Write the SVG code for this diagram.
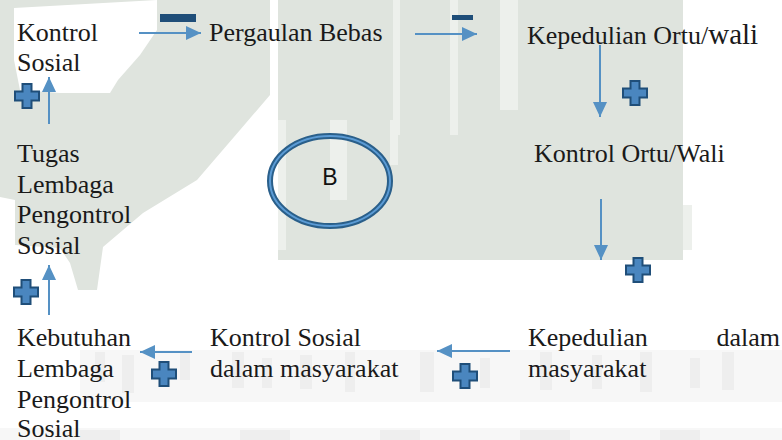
<svg xmlns="http://www.w3.org/2000/svg" width="782" height="440" viewBox="0 0 782 440">
  <style>
    .lbl { font-family: "Liberation Serif", "Times New Roman", serif; font-size: 26px; fill: #1a1a1a; }
    .conn { stroke: #5591c4; stroke-width: 2; fill: none; marker-end: url(#head); }
    .plus { fill: #4a86bf; stroke: #1f4e79; stroke-width: 2; stroke-linejoin: miter; }
    .minus { fill: #1f4e79; }
    .wm { fill: #dfe4de; }
    .wm-light { fill: #edf0ec; }
    .wm-grey { fill: #f7f7f7; }
    .wm-grey2 { fill: #eeeeee; }
  </style>
  <defs>
    <marker id="head" viewBox="0 0 15 14" refX="15" refY="7" markerWidth="15" markerHeight="14" markerUnits="userSpaceOnUse" orient="auto">
      <path d="M0,0 L15,7 L0,14 z" fill="#5591c4"/>
    </marker>
    <path id="plus" d="M-4.5,-12 h9 v7.5 h7.5 v9 h-7.5 v7.5 h-9 v-7.5 h-7.5 v-9 h7.5 z"/>
  </defs>

  <!-- background -->
  <rect width="782" height="440" fill="#ffffff"/>

  <!-- faint background watermark -->
  <g id="watermark">
    <polygon class="wm" points="0,0 270,0 270,95 240,130 197,180 143,213 103,247 97,290 78,290 70,263 60,248 15,245 15,200 0,197"/>
    <polygon fill="#ffffff" points="14,8 157,0 157,30 140,55 118,80 110,93 60,93 20,90 14,60"/>
    <rect class="wm" x="278" y="0" width="405" height="260"/>
    <rect class="wm-light" x="393" y="0" width="7" height="135"/>
    <rect class="wm-light" x="450" y="0" width="8" height="135"/>
    <rect class="wm-light" x="500" y="0" width="18" height="110"/>
    <rect class="wm-light" x="330" y="120" width="17" height="80"/>
    <rect class="wm-light" x="390" y="120" width="8" height="45"/>
    <rect class="wm-light" x="278" y="120" width="8" height="130"/>
    <rect class="wm-light" x="683" y="205" width="9" height="45"/>
    <!-- pale blocks along the bottom -->
    <rect class="wm-grey" x="80" y="350" width="702" height="52"/>
    <rect class="wm-grey2" x="95" y="352" width="10" height="30"/>
    <rect class="wm-grey2" x="122" y="355" width="12" height="38"/>
    <rect class="wm-grey2" x="180" y="352" width="10" height="28"/>
    <rect class="wm-grey2" x="232" y="352" width="12" height="36"/>
    <rect class="wm-grey2" x="262" y="358" width="10" height="30"/>
    <rect class="wm-grey2" x="300" y="355" width="12" height="34"/>
    <rect class="wm-grey2" x="345" y="352" width="10" height="40"/>
    <rect class="wm-grey2" x="420" y="352" width="14" height="40"/>
    <rect class="wm-grey2" x="480" y="358" width="10" height="30"/>
    <rect class="wm-grey2" x="540" y="352" width="12" height="38"/>
    <rect class="wm-grey2" x="592" y="355" width="10" height="34"/>
    <rect class="wm-grey2" x="640" y="352" width="12" height="40"/>
    <rect class="wm-grey2" x="690" y="358" width="10" height="30"/>
    <rect class="wm-grey2" x="722" y="352" width="12" height="38"/>
    <rect class="wm-grey" x="0" y="428" width="782" height="12"/>
    <rect class="wm-grey2" x="80" y="430" width="40" height="10"/>
    <rect class="wm-grey2" x="240" y="430" width="50" height="10"/>
    <rect class="wm-grey2" x="380" y="430" width="40" height="10"/>
    <rect class="wm-grey2" x="520" y="430" width="50" height="10"/>
    <rect class="wm-grey2" x="660" y="430" width="40" height="10"/>
  </g>

  <!-- connectors -->
  <g id="connectors">
    <line class="conn" x1="139" y1="33" x2="201" y2="33"/>
    <line class="conn" x1="415" y1="34" x2="477" y2="34"/>
    <line class="conn" x1="600" y1="45" x2="600" y2="117"/>
    <line class="conn" x1="601" y1="199" x2="601" y2="260"/>
    <line class="conn" x1="510" y1="351" x2="437" y2="351"/>
    <line class="conn" x1="192" y1="352" x2="140" y2="352"/>
    <line class="conn" x1="49" y1="315" x2="49" y2="265"/>
    <line class="conn" x1="49" y1="124" x2="49" y2="77"/>
    <!-- signs -->
    <rect class="minus" x="160" y="14" width="36" height="8"/>
    <rect class="minus" x="452" y="15" width="21" height="5"/>
    <use href="#plus" class="plus" x="635" y="93"/>
    <use href="#plus" class="plus" x="638" y="270"/>
    <use href="#plus" class="plus" x="465" y="376"/>
    <use href="#plus" class="plus" x="164" y="374"/>
    <use href="#plus" class="plus" x="26" y="292"/>
    <use href="#plus" class="plus" x="27" y="96"/>
  </g>

  <!-- nodes -->
  <g font-family="Liberation Serif, Times New Roman, serif">
  <g id="kontrol-sosial">
    <text class="lbl" x="17" y="41">Kontrol</text>
    <text class="lbl" x="17" y="71">Sosial</text>
  </g>
  <g id="pergaulan-bebas">
    <text class="lbl" x="209" y="41">Pergaulan Bebas</text>
  </g>
  <g id="kepedulian-ortu">
    <text class="lbl" x="527" y="44">Kepedulian Ortu/<tspan font-size="29">wali</tspan></text>
  </g>
  <g id="kontrol-ortu">
    <text class="lbl" x="534" y="162">Kontrol Ortu/Wali</text>
  </g>
  <g id="tugas-lembaga">
    <text class="lbl" x="17" y="162">Tugas</text>
    <text class="lbl" x="17" y="193">Lembaga</text>
    <text class="lbl" x="17" y="223">Pengontrol</text>
    <text class="lbl" x="17" y="254">Sosial</text>
  </g>
  <g id="kebutuhan-lembaga">
    <text class="lbl" x="17" y="346">Kebutuhan</text>
    <text class="lbl" x="17" y="377">Lembaga</text>
    <text class="lbl" x="17" y="408">Pengontrol</text>
    <text class="lbl" x="17" y="437">Sosial</text>
  </g>
  <g id="kontrol-masyarakat">
    <text class="lbl" x="210" y="346">Kontrol Sosial</text>
    <text class="lbl" x="210" y="377">dalam masyarakat</text>
  </g>
  <g id="kepedulian-masyarakat">
    <text class="lbl" x="528" y="346">Kepedulian</text>
    <text class="lbl" x="780" y="346" text-anchor="end">dalam</text>
    <text class="lbl" x="528" y="377">masyarakat</text>
  </g>
  </g>
  <g id="label-b">
    <ellipse cx="330" cy="181" rx="60" ry="45" fill="none" stroke="#2a5f8a" stroke-width="6"/>
    <ellipse cx="330" cy="181" rx="60" ry="45" fill="none" stroke="#5b9bd5" stroke-width="2"/>
    <text x="330" y="185" text-anchor="middle" font-family="Liberation Sans, Arial, sans-serif" font-size="23" fill="#111111">B</text>
  </g>
</svg>
